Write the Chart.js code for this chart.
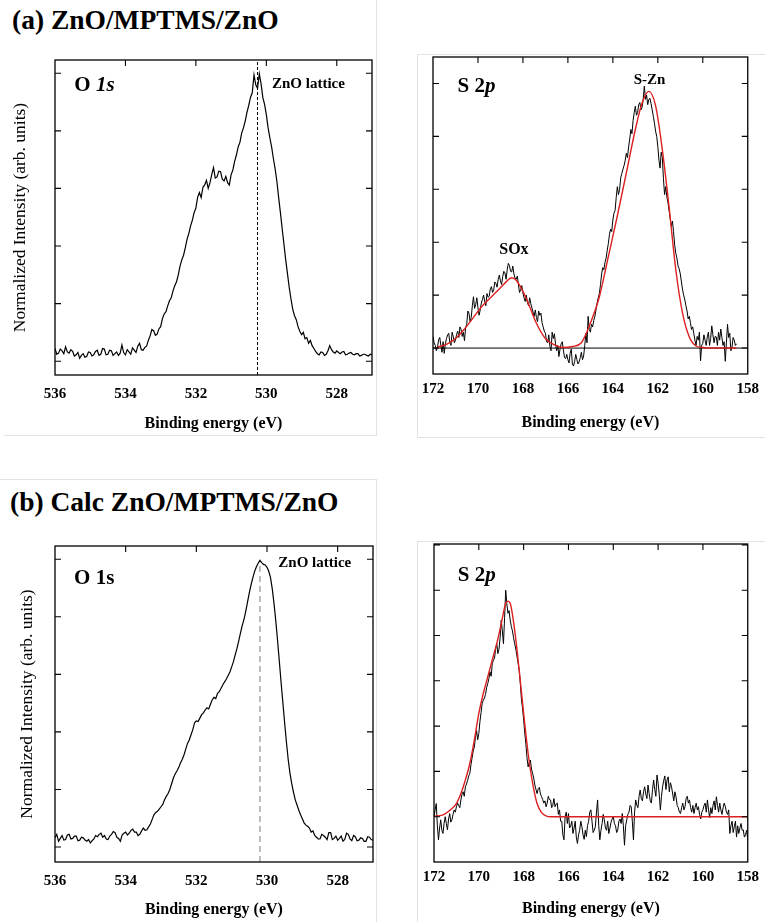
<!DOCTYPE html>
<html>
<head>
<meta charset="utf-8">
<script src="https://cdn.jsdelivr.net/npm/chart.js@4.4.1/dist/chart.umd.min.js"></script>
<style>
  body { margin: 0; background: #fff; }
  #lienzo { position: relative; width: 765px; height: 922px; overflow: hidden; font-family: 'Liberation Serif', serif; }
  .panel { position: absolute; }
  .marco { position: absolute; border: 0 solid #e2e2e2; box-sizing: border-box; }
  .titulo { position: absolute; font-weight: bold; font-size: 27.5px; line-height: 27.5px; white-space: nowrap; color: #000; }
</style>
</head>
<body>
<div id="lienzo">
  <!-- marcos grises de la figura -->
  <div class="marco" style="left:4px;top:-2px;width:373px;height:438px;border-right-width:1px;border-bottom-width:1px"></div>
  <div class="marco" style="left:417px;top:54px;width:360px;height:384px;border-left-width:1px;border-top-width:1px;border-bottom-width:1px"></div>
  <div class="marco" style="left:-2px;top:479px;width:379px;height:460px;border-right-width:1px;border-top-width:1px"></div>
  <div class="marco" style="left:417px;top:541px;width:360px;height:400px;border-left-width:1px;border-top-width:1px"></div>

  <div class="titulo" style="left:12px;top:6px">(a) ZnO/MPTMS/ZnO</div>
  <div class="titulo" style="left:10px;top:488px">(b) Calc ZnO/MPTMS/ZnO</div>

  <canvas id="o1sA" class="panel" width="392" height="400" style="left:0;top:40px"></canvas>
  <canvas id="s2pA" class="panel" width="370" height="400" style="left:395px;top:40px"></canvas>
  <canvas id="o1sB" class="panel" width="392" height="442" style="left:0;top:480px"></canvas>
  <canvas id="s2pB" class="panel" width="370" height="442" style="left:395px;top:480px"></canvas>
</div>

<script>
// ---- Datos ----
// O 1s (a): de 536.00 a 527.00 eV, paso 0.05
const o1sA_inicio = 536.0;
const o1sA_paso = 0.05;
const o1sA_intensidad = [
  0.22, 0.12, 0.14, 0.21, 0.18, 0.13, 0.25, 0.16, 0.14, 0.20, // 536.00
  0.17, 0.09, 0.11, 0.15, 0.05, 0.10, 0.13, 0.07, 0.08, 0.16, // 535.50
  0.15, 0.09, 0.11, 0.17, 0.19, 0.10, 0.12, 0.22, 0.21, 0.11, // 535.00
  0.12, 0.19, 0.18, 0.10, 0.13, 0.16, 0.10, 0.14, 0.28, 0.15, // 534.50
  0.11, 0.20, 0.16, 0.12, 0.23, 0.19, 0.15, 0.26, 0.31, 0.20, // 534.00
  0.19, 0.24, 0.26, 0.36, 0.44, 0.55, 0.53, 0.45, 0.47, 0.56, // 533.50
  0.60, 0.74, 0.82, 0.86, 0.96, 1.05, 1.10, 1.22, 1.31, 1.38, // 533.00
  1.50, 1.65, 1.76, 1.84, 1.97, 2.12, 2.22, 2.35, 2.45, 2.58, // 532.50
  2.66, 2.85, 2.93, 2.84, 3.02, 3.06, 3.14, 3.00, 3.10, 3.24, // 532.00
  3.36, 3.18, 3.20, 3.30, 3.29, 3.16, 3.13, 3.21, 3.10, 3.06, // 531.50
  3.24, 3.32, 3.47, 3.58, 3.72, 3.80, 3.96, 4.05, 4.17, 4.32, // 531.00
  4.44, 4.58, 4.66, 4.97, 4.80, 4.74, 4.99, 4.82, 4.58, 4.46, // 530.50
  4.28, 4.05, 3.88, 3.72, 3.52, 3.34, 3.12, 2.84, 2.58, 2.30, // 530.00
  2.03, 1.76, 1.52, 1.28, 1.08, 0.90, 0.79, 0.72, 0.60, 0.52, // 529.50
  0.46, 0.50, 0.39, 0.41, 0.31, 0.36, 0.27, 0.22, 0.17, 0.13, // 529.00
  0.11, 0.16, 0.15, 0.10, 0.12, 0.18, 0.27, 0.20, 0.16, 0.14, // 528.50
  0.18, 0.15, 0.13, 0.16, 0.17, 0.11, 0.12, 0.14, 0.15, 0.12, // 528.00
  0.11, 0.13, 0.13, 0.09, 0.10, 0.12, 0.12, 0.10, 0.09, 0.12, // 527.50
  0.11                                                        // 527.00
];
const o1sA_lattice = 530.25;

// O 1s (b): de 536.00 a 527.00 eV, paso 0.05
const o1sB_inicio = 536.0;
const o1sB_paso = 0.05;
const o1sB_intensidad = [
  0.16, 0.22, 0.10, 0.15, 0.20, 0.12, 0.13, 0.21, 0.22, 0.14, // 536.00
  0.15, 0.19, 0.19, 0.11, 0.12, 0.17, 0.16, 0.12, 0.10, 0.13, // 535.50
  0.07, 0.11, 0.14, 0.20, 0.18, 0.22, 0.24, 0.17, 0.20, 0.14, // 535.00
  0.13, 0.19, 0.22, 0.27, 0.25, 0.17, 0.15, 0.10, 0.21, 0.24, // 534.50
  0.26, 0.21, 0.24, 0.29, 0.31, 0.26, 0.26, 0.20, 0.22, 0.28, // 534.00
  0.33, 0.29, 0.30, 0.35, 0.40, 0.48, 0.56, 0.60, 0.62, 0.66, // 533.50
  0.70, 0.74, 0.82, 0.88, 0.93, 1.00, 1.10, 1.20, 1.27, 1.32, // 533.00
  1.38, 1.46, 1.52, 1.60, 1.70, 1.80, 1.86, 1.95, 2.04, 2.16, // 532.50
  2.19, 2.18, 2.24, 2.30, 2.33, 2.38, 2.42, 2.40, 2.48, 2.56, // 532.00
  2.60, 2.58, 2.67, 2.70, 2.76, 2.82, 2.87, 2.92, 2.98, 3.04, // 531.50
  3.13, 3.22, 3.34, 3.45, 3.58, 3.72, 3.85, 3.96, 4.10, 4.26, // 531.00
  4.42, 4.56, 4.68, 4.79, 4.87, 4.93, 4.98, 4.94, 4.91, 4.90, // 530.50
  4.86, 4.79, 4.68, 4.48, 4.22, 3.92, 3.58, 3.22, 2.85, 2.50, // 530.00
  2.15, 1.82, 1.52, 1.28, 1.10, 0.95, 0.82, 0.73, 0.64, 0.56, // 529.50
  0.49, 0.42, 0.38, 0.36, 0.33, 0.26, 0.28, 0.20, 0.17, 0.14, // 529.00
  0.14, 0.22, 0.20, 0.17, 0.13, 0.25, 0.25, 0.13, 0.15, 0.19, // 528.50
  0.12, 0.15, 0.19, 0.10, 0.13, 0.24, 0.22, 0.14, 0.11, 0.20, // 528.00
  0.18, 0.11, 0.12, 0.16, 0.15, 0.10, 0.10, 0.18, 0.17, 0.13, // 527.50
  0.12                                                        // 527.00
];
const o1sB_lattice = 530.2;

// S 2p (a): de 172.00 a 158.50 eV, paso 0.05
const s2pA_inicio = 172.0;
const s2pA_paso = 0.05;
const s2pA_intensidad = [
  0.22, 0.10, 0.05, -0.05, 0.02, 0.15, 0.20, 0.05, -0.08, 0.12,     // 172.00
  -0.10, 0.08, 0.18, 0.25, 0.28, 0.10, 0.05, 0.30, 0.22, 0.10,      // 171.50
  0.15, 0.26, 0.32, 0.20, 0.40, 0.35, 0.22, 0.30, 0.14, 0.38,       // 171.00
  0.45, 0.70, 0.66, 0.50, 0.58, 0.80, 0.97, 0.75, 0.82, 0.95,       // 170.50
  0.76, 0.62, 0.72, 0.85, 0.92, 1.00, 0.88, 0.80, 1.03, 0.96,       // 170.00
  0.98, 1.12, 1.16, 1.05, 1.10, 1.25, 1.22, 1.15, 1.30, 1.38,       // 169.50
  1.27, 1.20, 1.35, 1.45, 1.42, 1.30, 1.48, 1.60, 1.56, 1.45,       // 169.00
  1.44, 1.55, 1.40, 1.32, 1.30, 1.36, 1.20, 1.05, 1.10, 1.18,       // 168.50
  1.04, 0.95, 0.88, 1.00, 0.86, 0.80, 0.95, 0.84, 0.76, 0.68,       // 168.00
  0.60, 0.72, 0.58, 0.50, 0.70, 0.62, 0.66, 0.48, 0.40, 0.32,       // 167.50
  0.28, 0.12, 0.10, 0.25, 0.03, -0.05, 0.30, 0.18, 0.27, 0.08,      // 167.00
  -0.05, 0.05, -0.16, -0.02, 0.08, 0.12, -0.04, -0.18, -0.20, -0.12, // 166.50
  -0.22, -0.28, -0.10, -0.02, -0.30, -0.34, -0.25, -0.12, -0.22, -0.30, // 166.00
  -0.26, -0.18, -0.08, -0.22, -0.15, 0.05, 0.28, 0.10, 0.60, 0.35,  // 165.50
  0.30, 0.45, 0.40, 0.52, 0.60, 0.72, 0.85, 0.95, 1.03, 1.20,       // 165.00
  1.40, 1.52, 1.48, 1.62, 1.70, 1.85, 1.98, 2.15, 2.25, 2.20,       // 164.50
  2.42, 2.55, 2.60, 2.85, 3.05, 2.90, 3.00, 3.22, 3.30, 3.38,       // 164.00
  3.45, 3.55, 3.68, 3.60, 3.80, 3.95, 4.13, 4.05, 4.30, 4.45,       // 163.50
  4.57, 4.40, 4.45, 4.60, 4.64, 4.50, 4.55, 4.70, 4.95, 4.70,       // 163.00
  4.78, 4.60, 4.70, 4.72, 4.62, 4.50, 4.38, 4.25, 4.10, 4.00,       // 162.50
  3.81, 3.55, 3.40, 3.70, 3.60, 3.20, 2.90, 3.05, 2.86, 2.75,       // 162.00
  2.60, 2.45, 2.30, 2.40, 2.20, 1.95, 1.79, 1.70, 1.55, 1.50,       // 161.50
  1.40, 1.25, 1.10, 1.00, 0.91, 0.80, 0.70, 0.55, 0.60, 0.48,       // 161.00
  0.35, 0.40, 0.28, 0.15, 0.05, 0.22, 0.15, 0.30, -0.24, 0.05,      // 160.50
  0.09, 0.25, 0.15, 0.05, 0.21, 0.30, 0.05, 0.18, 0.42, 0.25,       // 160.00
  0.10, 0.22, 0.21, 0.05, 0.30, 0.15, 0.36, 0.20, 0.05, 0.12,       // 159.50
  -0.25, 0.10, 0.45, 0.20, 0.28, -0.05, 0.02, 0.20, 0.15, 0.05,     // 159.00
  0.08                                                              // 158.50
];
// ajuste (rojo) de S 2p (a)
const s2pA_ajusteEnergia = [171.8, 171.4, 171.0, 170.6, 170.2, 169.8, 169.4, 169.0, 168.7, 168.5,
  168.3, 168.0, 167.7, 167.4, 167.0, 166.6, 166.2, 165.8, 165.4, 165.0, 164.6, 164.2, 163.8,
  163.4, 163.0, 162.7, 162.4, 162.1, 161.8, 161.5, 161.2, 160.9, 160.6, 160.3, 160.0, 159.5, 159.0, 158.5];
const s2pA_ajuste = [0.02, 0.07, 0.18, 0.36, 0.58, 0.80, 0.97, 1.14, 1.27, 1.33,
  1.28, 1.07, 0.78, 0.47, 0.18, 0.06, 0.01, 0.03, 0.10, 0.47, 0.97, 1.73, 2.50,
  3.31, 4.13, 4.63, 4.85, 4.58, 3.75, 2.67, 1.48, 0.66, 0.21, 0.04, 0.01, 0.0, 0.0, 0.0];
const s2pA_linea = [172, 158];

// S 2p (b): de 172.00 a 158.00 eV, paso 0.05
const s2pB_inicio = 172.0;
const s2pB_paso = 0.05;
const s2pB_intensidad = [
  0.00, 0.15, 0.29, -0.20, -0.51, -0.25, -0.07, -0.30, -0.37, -0.15, // 172.00
  0.00, -0.15, -0.29, -0.05, 0.07, -0.12, -0.07, 0.05, 0.15, 0.10,   // 171.50
  0.22, 0.30, 0.25, 0.20, 0.37, 0.50, 0.55, 0.45, 0.66, 0.72,        // 171.00
  0.80, 0.90, 0.96, 1.15, 1.30, 1.45, 1.54, 1.75, 1.90, 1.70,        // 170.50
  1.84, 2.10, 2.30, 2.50, 2.57, 2.62, 2.70, 2.85, 2.94, 3.05,        // 170.00
  3.20, 3.10, 3.38, 3.45, 3.50, 3.70, 3.82, 3.60, 3.70, 3.95,        // 169.50
  4.34, 4.10, 3.82, 4.40, 5.00, 4.70, 4.49, 4.55, 4.34, 4.20,        // 169.00
  4.10, 3.95, 3.82, 3.70, 3.55, 3.40, 3.24, 2.95, 2.60, 2.40,        // 168.50
  2.13, 1.85, 1.60, 1.30, 1.10, 1.20, 1.25, 1.05, 0.96, 0.85,        // 168.00
  0.70, 0.60, 0.51, 0.62, 0.65, 0.50, 0.44, 0.38, 0.30, 0.35,        // 167.50
  0.22, 0.30, 0.45, 0.38, 0.37, 0.20, 0.25, 0.40, 0.22, 0.28,        // 167.00
  0.30, 0.05, 0.15, -0.10, -0.10, -0.40, -0.51, 0.00, 0.10, -0.15,   // 166.50
  0.07, -0.25, -0.20, -0.10, -0.37, -0.25, -0.10, -0.45, -0.59, -0.40, // 166.00
  -0.30, -0.10, -0.22, -0.40, -0.50, -0.30, -0.44, -0.20, -0.10, 0.10, // 165.50
  0.15, -0.10, -0.35, -0.30, -0.22, 0.10, 0.37, -0.20, -0.51, -0.30,   // 165.00
  -0.15, 0.05, -0.07, -0.25, -0.30, -0.10, -0.37, -0.25, -0.12, -0.05, // 164.50
  0.00, -0.15, -0.20, -0.35, -0.29, -0.10, -0.05, -0.15, 0.07, -0.20,  // 164.00
  -0.63, -0.20, -0.07, 0.05, 0.10, 0.25, 0.22, -0.10, -0.51, 0.10,     // 163.50
  0.37, 0.25, 0.20, 0.45, 0.59, 0.40, 0.35, 0.55, 0.66, 0.50,        // 163.00
  0.40, 0.70, 0.51, 0.35, 0.30, 0.60, 0.81, 0.60, 0.45, 0.92,        // 162.50
  0.74, 0.50, 0.15, 0.45, 0.66, 0.80, 0.90, 0.60, 0.81, 0.88,        // 162.00
  0.55, 0.75, 0.66, 0.50, 0.35, 0.55, 0.44, 0.25, 0.20, 0.10,        // 161.50
  0.07, 0.20, 0.30, 0.15, 0.22, 0.40, 0.45, 0.30, 0.37, 0.20,        // 161.00
  0.10, 0.25, 0.07, 0.20, 0.30, 0.15, 0.22, 0.05, -0.05, 0.10,       // 160.50
  0.15, 0.25, 0.30, 0.10, 0.37, 0.15, -0.02, 0.20, 0.07, 0.25,       // 160.00
  0.35, 0.15, 0.44, 0.25, 0.10, 0.30, 0.15, 0.05, 0.20, 0.30,        // 159.50
  0.22, 0.10, 0.05, 0.15, -0.37, -0.20, -0.10, -0.35, -0.22, -0.10,  // 159.00
  -0.45, -0.20, -0.37, -0.25, -0.15, -0.30, -0.29, -0.45, -0.40, -0.30, // 158.50
  -0.51                                                               // 158.00
];
const s2pB_ajusteEnergia = [172.0, 171.6, 171.2, 171.0, 170.8, 170.6, 170.4, 170.2, 170.0, 169.8,
  169.6, 169.4, 169.2, 169.0, 168.8, 168.7, 168.6, 168.4, 168.2, 168.0, 167.8, 167.6, 167.4,
  167.2, 167.0, 166.8, 158.0];
const s2pB_ajuste = [0.01, 0.04, 0.18, 0.29, 0.51, 0.81, 1.18, 1.69, 2.28, 2.72,
  3.09, 3.46, 3.82, 4.26, 4.71, 4.76, 4.71, 4.12, 3.24, 2.28, 1.40, 0.74, 0.29,
  0.09, 0.02, 0.0, 0.0];

const tituloX = 'Binding energy (eV)';
const tituloY = 'Normalized Intensity (arb. units)';
const rojo = '#dc1f1f';

document.addEventListener('DOMContentLoaded', function() {
    Chart.defaults.font.family = '"Liberation Serif", serif';
    Chart.defaults.color = '#000';

    // Convierte una lista de intensidades con paso fijo en puntos {x, y}
    function serie(inicio, paso, valores) {
        return valores.map((v, i) => ({ x: Math.round((inicio - i * paso) * 100) / 100, y: v }));
    }
    function pares(energias, valores) {
        return energias.map((e, i) => ({ x: e, y: valores[i] }));
    }

    // Caja del gráfico con marcas hacia dentro
    const marcoPlugin = {
        id: 'marco',
        afterDatasetsDraw(chart) {
            const { ctx, chartArea: a, scales: { x, y } } = chart;
            ctx.save();
            ctx.strokeStyle = '#000';
            ctx.lineWidth = 1.3;
            ctx.strokeRect(a.left, a.top, a.right - a.left, a.bottom - a.top);
            ctx.lineWidth = 1.1;
            ctx.beginPath();
            y.ticks.forEach(t => {
                if (t.value <= y.min || t.value >= y.max) return;
                const py = y.getPixelForValue(t.value);
                ctx.moveTo(a.left, py); ctx.lineTo(a.left + 6, py);
                ctx.moveTo(a.right, py); ctx.lineTo(a.right - 6, py);
            });
            x.ticks.forEach(t => {
                if (t.value <= x.min || t.value >= x.max) return;
                const px = x.getPixelForValue(t.value);
                ctx.moveTo(px, a.top); ctx.lineTo(px, a.top + 6);
            });
            ctx.stroke();
            ctx.restore();
        }
    };

    // Textos dentro del gráfico (posición en coordenadas de datos)
    const etiquetasPlugin = {
        id: 'etiquetas',
        afterDraw(chart, args, opts) {
            const { ctx, scales: { x, y } } = chart;
            (opts.items || []).forEach(item => {
                ctx.save();
                ctx.fillStyle = '#000';
                ctx.textBaseline = 'alphabetic';
                const fuentes = item.partes.map(p => (p.italica ? 'italic ' : '') + 'bold ' + item.tam + 'px "Liberation Serif"');
                let ancho = 0;
                item.partes.forEach((p, i) => { ctx.font = fuentes[i]; ancho += ctx.measureText(p.texto).width; });
                let px = x.getPixelForValue(item.x);
                if (item.centro) px -= ancho / 2;
                const py = y.getPixelForValue(item.y);
                item.partes.forEach((p, i) => {
                    ctx.font = fuentes[i];
                    ctx.fillText(p.texto, px, py);
                    px += ctx.measureText(p.texto).width;
                });
                ctx.restore();
            });
        }
    };

    function crearPanel(id, cfg) {
        return new Chart(document.getElementById(id), {
            type: 'line',
            data: { datasets: cfg.datasets },
            options: {
                responsive: false,
                animation: false,
                layout: { padding: cfg.padding },
                elements: { point: { radius: 0 }, line: { tension: 0 } },
                plugins: {
                    legend: { display: false },
                    tooltip: { enabled: false },
                    etiquetas: { items: cfg.etiquetas }
                },
                scales: {
                    x: {
                        type: 'linear',
                        reverse: true,
                        min: cfg.xMin,
                        max: cfg.xMax,
                        grid: { display: false, drawTicks: false },
                        border: { display: false },
                        ticks: {
                            stepSize: 2,
                            includeBounds: false,
                            autoSkip: false,
                            maxRotation: 0,
                            padding: cfg.tickPad,
                            color: '#000',
                            font: { size: 15, weight: 'bold' }
                        },
                        title: {
                            display: true,
                            text: tituloX,
                            color: '#000',
                            font: { size: 16, weight: 'bold' },
                            padding: { top: 0, bottom: cfg.xTituloPad }
                        },
                        afterFit: s => { s.height = cfg.xAlto; }
                    },
                    y: {
                        min: cfg.yMin,
                        max: cfg.yMax,
                        grid: { display: false, drawTicks: false },
                        border: { display: false },
                        ticks: { display: false, stepSize: 1, includeBounds: false },
                        title: {
                            display: !!cfg.yTituloPad,
                            text: tituloY,
                            color: '#000',
                            font: { size: 17.5, weight: 'normal' },
                            padding: { top: cfg.yTituloPad || 0, bottom: 0 }
                        },
                        afterFit: s => { s.width = cfg.yAncho; }
                    }
                }
            },
            plugins: [marcoPlugin, etiquetasPlugin]
        });
    }

    // (a) O 1s
    crearPanel('o1sA', {
        xMin: 527, xMax: 536, yMin: -0.24, yMax: 5.23,
        padding: { top: 20, right: 20, left: 0, bottom: 0 },
        yAncho: 55, xAlto: 65, tickPad: 10, xTituloPad: 7, yTituloPad: 10,
        datasets: [
            { data: serie(o1sA_inicio, o1sA_paso, o1sA_intensidad), borderColor: '#000', borderWidth: 1.2, order: 0 },
            { data: [{ x: o1sA_lattice, y: -0.24 }, { x: o1sA_lattice, y: 5.23 }], borderColor: '#000', borderWidth: 1, borderDash: [3, 2], order: 1 }
        ],
        etiquetas: [
            { x: 535.45, y: 4.70, tam: 21, partes: [{ texto: 'O ' }, { texto: '1s', italica: true }] },
            { x: 529.84, y: 4.75, tam: 15, partes: [{ texto: 'ZnO lattice' }] }
        ]
    });

    // (a) S 2p
    crearPanel('s2pA', {
        xMin: 158, xMax: 172, yMin: -0.49, yMax: 5.5,
        padding: { top: 17, right: 14, left: 0, bottom: 0 },
        yAncho: 38, xAlto: 66, tickPad: 6, xTituloPad: 8,
        datasets: [
            { data: pares(s2pA_ajusteEnergia, s2pA_ajuste), borderColor: rojo, borderWidth: 1.4, cubicInterpolationMode: 'monotone', order: 0 },
            { data: serie(s2pA_inicio, s2pA_paso, s2pA_intensidad), borderColor: '#000', borderWidth: 1, order: 1 },
            { data: [{ x: s2pA_linea[0], y: 0 }, { x: s2pA_linea[1], y: 0 }], borderColor: '#000', borderWidth: 1, order: 2 }
        ],
        etiquetas: [
            { x: 170.91, y: 4.83, tam: 21, partes: [{ texto: 'S 2' }, { texto: 'p', italica: true }] },
            { x: 162.37, y: 4.99, tam: 15, centro: true, partes: [{ texto: 'S-Zn' }] },
            { x: 168.4, y: 1.77, tam: 16, centro: true, partes: [{ texto: 'SOx' }] }
        ]
    });

    // (b) O 1s
    crearPanel('o1sB', {
        xMin: 527, xMax: 536, yMin: -0.26, yMax: 5.23,
        padding: { top: 66, right: 19, left: 0, bottom: 0 },
        yAncho: 55, xAlto: 60, tickPad: 10, xTituloPad: 3, yTituloPad: 17,
        datasets: [
            { data: serie(o1sB_inicio, o1sB_paso, o1sB_intensidad), borderColor: '#000', borderWidth: 1.2, order: 0 },
            { data: [{ x: o1sB_lattice, y: -0.26 }, { x: o1sB_lattice, y: 4.95 }], borderColor: '#9a9a9a', borderWidth: 1.3, borderDash: [6, 4], order: 1 }
        ],
        etiquetas: [
            { x: 535.46, y: 4.57, tam: 21, partes: [{ texto: 'O 1s' }] },
            { x: 529.68, y: 4.87, tam: 15, partes: [{ texto: 'ZnO lattice' }] }
        ]
    });

    // (b) S 2p
    crearPanel('s2pB', {
        xMin: 158, xMax: 172, yMin: -1.0, yMax: 6.02,
        padding: { top: 64, right: 13, left: 0, bottom: 0 },
        yAncho: 39, xAlto: 60, tickPad: 6, xTituloPad: 4,
        datasets: [
            { data: pares(s2pB_ajusteEnergia, s2pB_ajuste), borderColor: rojo, borderWidth: 1.4, cubicInterpolationMode: 'monotone', order: 0 },
            { data: serie(s2pB_inicio, s2pB_paso, s2pB_intensidad), borderColor: '#000', borderWidth: 1, order: 1 }
        ],
        etiquetas: [
            { x: 170.94, y: 5.21, tam: 21, partes: [{ texto: 'S 2' }, { texto: 'p', italica: true }] }
        ]
    });
});
</script>
</body>
</html>
